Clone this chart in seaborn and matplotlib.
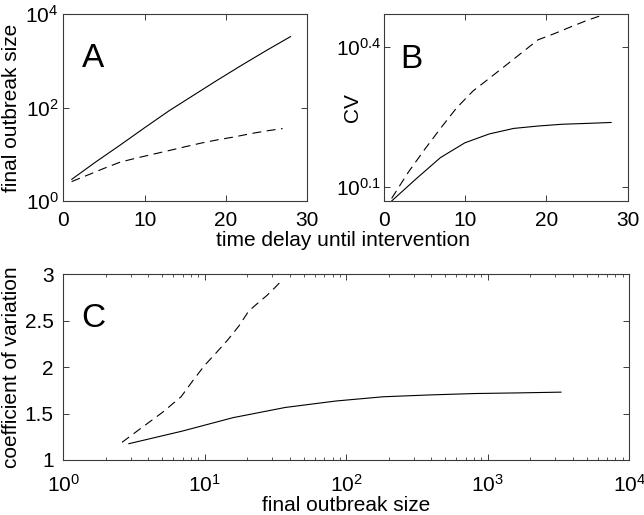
import matplotlib
matplotlib.use("Agg")
import matplotlib.pyplot as plt
import seaborn as sns
from matplotlib.ticker import FixedLocator, FixedFormatter, NullLocator, LogLocator

# time delay until intervention (days) for the two scenarios
t_solid = [1, 4, 7, 10, 13, 16, 19, 22, 25, 28]
t_dashed = [1, 3, 5, 7, 9, 11, 13, 15, 17, 19, 21, 23, 25, 27]

# final outbreak size
size_solid = [2.9, 6.9, 15.8, 37, 85, 182, 389, 813, 1660, 3310]
size_dashed = [2.6, 3.6, 5.0, 6.8, 8.3, 10.0, 12.0, 14.5, 17.4, 20.4, 23.4, 27.5, 31.6, 35.5]

# coefficient of variation
cv_solid = [1.175, 1.31, 1.455, 1.565, 1.635, 1.68, 1.70, 1.715, 1.722, 1.73]
cv_dashed = [1.19, 1.35, 1.51, 1.68, 1.86, 2.02, 2.15, 2.29, 2.44, 2.60, 2.68, 2.77, 2.86, 2.94]

sns.set_style("ticks")
plt.rcParams["font.family"] = ["Liberation Sans", "DejaVu Sans"]
plt.rcParams["mathtext.fontset"] = "custom"
plt.rcParams["mathtext.rm"] = "Liberation Sans"
plt.rcParams["mathtext.it"] = "Liberation Sans:italic"
plt.rcParams["mathtext.default"] = "regular"
plt.rcParams["text.color"] = "black"
plt.rcParams["axes.labelcolor"] = "black"

fs = 15
frame = "#3a3a3a"

fig = plt.figure(figsize=(6.44, 5.15), dpi=100)
axA = fig.add_axes([0.0986, 0.6097, 0.378, 0.363])
axB = fig.add_axes([0.5955, 0.6097, 0.379, 0.363])
axC = fig.add_axes([0.0983, 0.1068, 0.8786, 0.361])


def style(ax, xpad=7, ypad=3.5):
    for s in ax.spines.values():
        s.set_color(frame)
        s.set_linewidth(0.8)
    ax.tick_params(which="both", direction="in", top=True, right=True,
                   colors=frame, labelcolor="black", labelsize=fs)
    ax.tick_params(which="major", length=4, width=0.7)
    ax.tick_params(which="minor", length=2.5, width=0.6)
    ax.tick_params(axis="x", pad=xpad)
    ax.tick_params(axis="y", pad=ypad)


def draw(ax, x1, y1, x2, y2):
    sns.lineplot(x=x1, y=y1, ax=ax, color="black", linewidth=0.8)
    sns.lineplot(x=x2, y=y2, ax=ax, color="black", linewidth=0.8)
    ax.lines[-1].set_dashes((8, 5))


# panel A
axA.set_yscale("log")
draw(axA, t_solid, size_solid, t_dashed, size_dashed)
axA.set_xlim(0, 30)
axA.set_ylim(1, 1e4)
axA.xaxis.set_major_locator(FixedLocator([0, 10, 20, 30]))
axA.yaxis.set_major_locator(FixedLocator([1, 100, 1e4]))
axA.yaxis.set_major_formatter(FixedFormatter(["$10^{0}$", "$10^{2}$", "$10^{4}$"]))
axA.yaxis.set_minor_locator(NullLocator())
axA.set_ylabel("final outbreak size", fontsize=fs)
axA.yaxis.set_label_coords(-0.175, 0.5)
axA.text(0.076, 0.717, "A", transform=axA.transAxes, fontsize=24)
style(axA)

# panel B
axB.set_yscale("log")
draw(axB, t_solid, cv_solid, t_dashed, cv_dashed)
axB.set_xlim(0, 30)
axB.set_ylim(10 ** 0.07, 10 ** 0.47)
axB.xaxis.set_major_locator(FixedLocator([0, 10, 20, 30]))
axB.yaxis.set_major_locator(FixedLocator([10 ** 0.1, 10 ** 0.4]))
axB.yaxis.set_major_formatter(FixedFormatter(["$10^{0.1}$", "$10^{0.4}$"]))
axB.yaxis.set_minor_locator(NullLocator())
axB.set_ylabel("CV", fontsize=fs)
axB.yaxis.set_label_coords(-0.088, 0.5)
axB.text(0.068, 0.711, "B", transform=axB.transAxes, fontsize=24)
style(axB, ypad=1.5)

fig.text(343 / 644, 1 - 246 / 515, "time delay until intervention",
         ha="center", va="baseline", fontsize=fs)

# panel C
axC.set_xscale("log")
draw(axC, size_solid, cv_solid, size_dashed, cv_dashed)
axC.set_xlim(1, 1e4)
axC.set_ylim(1, 3)
axC.xaxis.set_major_locator(FixedLocator([1, 10, 100, 1e3, 1e4]))
axC.xaxis.set_major_formatter(FixedFormatter(["$10^{0}$", "$10^{1}$", "$10^{2}$", "$10^{3}$", "$10^{4}$"]))
axC.xaxis.set_minor_locator(LogLocator(base=10, subs=range(2, 10)))
axC.yaxis.set_major_locator(FixedLocator([1, 1.5, 2, 2.5, 3]))
axC.yaxis.set_major_formatter(FixedFormatter(["1", "1.5", "2", "2.5", "3"]))
axC.set_ylabel("coefficient of variation", fontsize=fs)
axC.yaxis.set_label_coords(-0.075, 0.5)
axC.text(0.031, 0.715, "C", transform=axC.transAxes, fontsize=24)
style(axC, xpad=10, ypad=7)

fig.text(346 / 644, 1 - 511 / 515, "final outbreak size",
         ha="center", va="baseline", fontsize=fs)

fig.savefig("out.png", dpi=100)
